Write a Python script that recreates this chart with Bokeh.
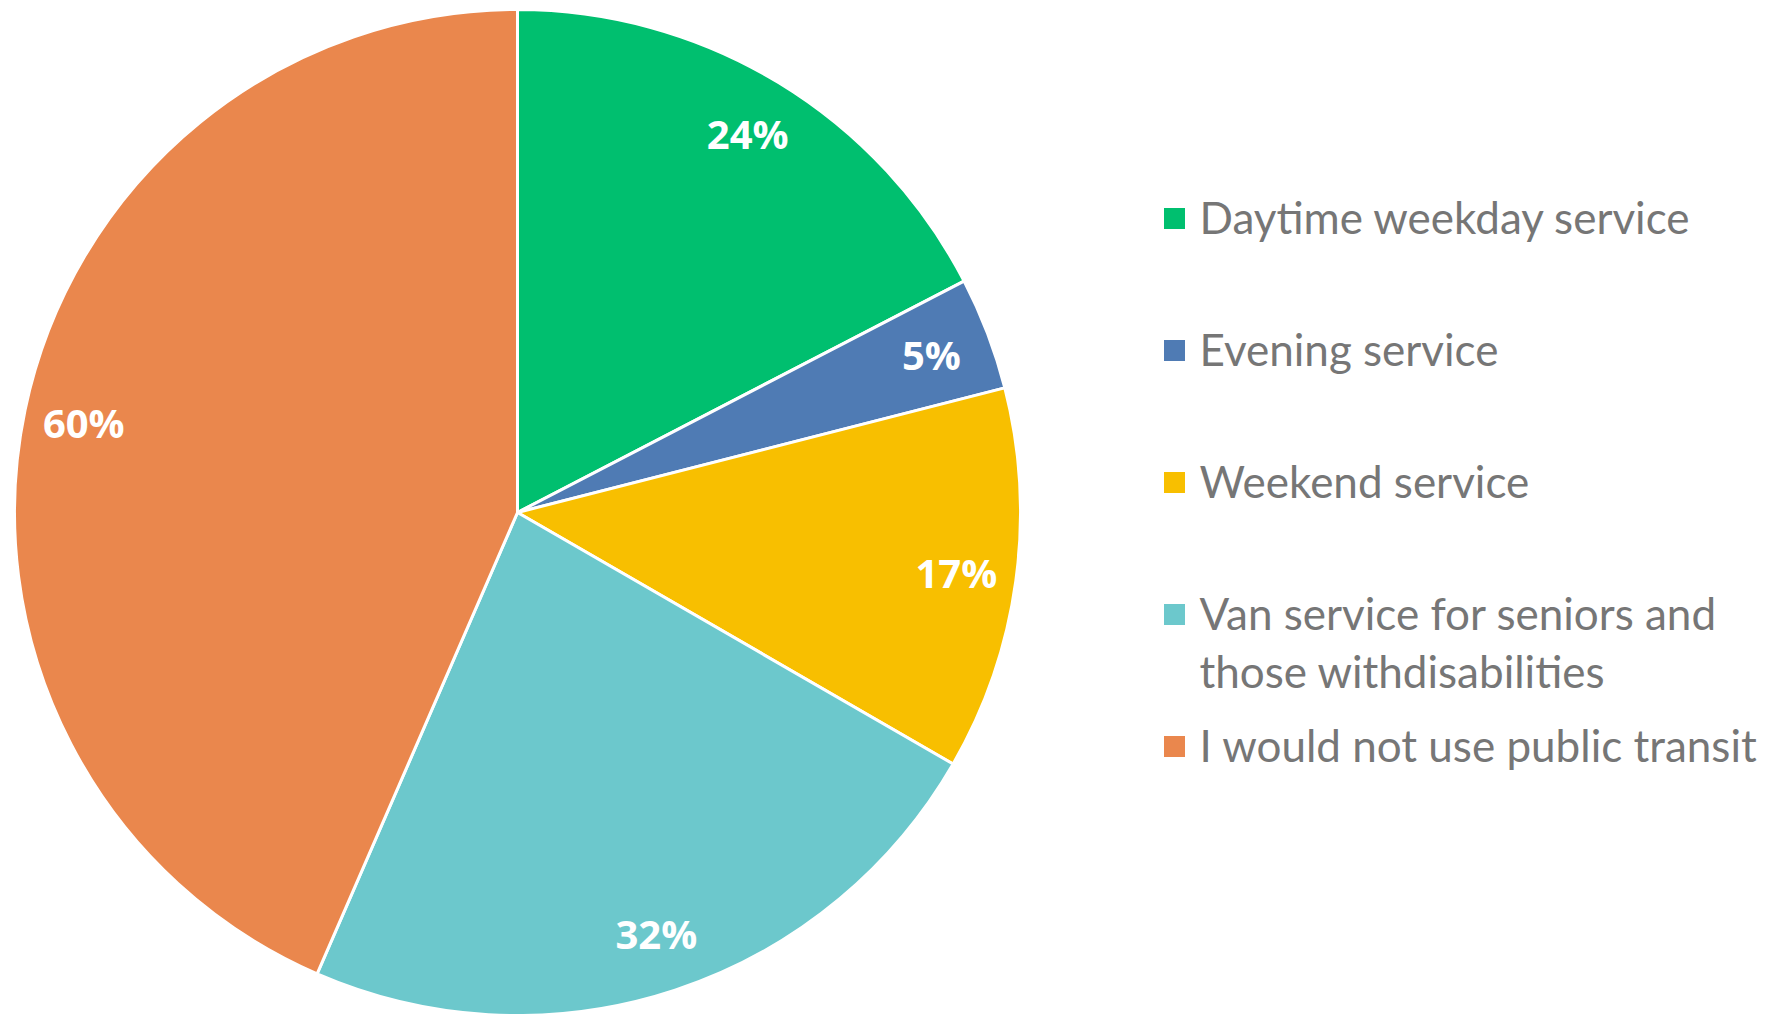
import math
from bokeh.plotting import figure
from bokeh.models import Range1d
from bokeh.core.properties import value
from bokeh.embed import file_html
from bokeh.resources import INLINE

categories = ["Daytime weekday service", "Evening service", "Weekend service",
              "Van service for seniors and\nthose withdisabilities", "I would not use public transit"]
values = [24, 5, 17, 32, 60]
labels = ["24%", "5%", "17%", "32%", "60%"]
colors = ["#00BF6F", "#4F7BB4", "#F8BF00", "#6CC8CC", "#EA874D"]

W, H = 1759, 1014
p = figure(width=W, height=H, output_backend="svg", toolbar_location=None,
           x_range=Range1d(0, W), y_range=Range1d(0, H), min_border=0)
p.axis.visible = False
p.grid.visible = False
p.outline_line_color = None
p.background_fill_color = "white"
p.border_fill_color = "white"

def Y(py):  # image pixel y -> data y
    return H - py

def X(px):
    return px

cx, cy, R = X(517), Y(512), 503
total = sum(values)
starts, ends, mids = [], [], []
cum = 0.0
for v in values:
    a0 = math.pi / 2 - 2 * math.pi * cum / total
    cum += v
    a1 = math.pi / 2 - 2 * math.pi * cum / total
    starts.append(a0)
    ends.append(a1)
    mids.append((a0 + a1) / 2)

p.wedge(x=[cx] * len(values), y=[cy] * len(values), radius=R,
        start_angle=starts, end_angle=ends, direction="clock",
        fill_color=colors, line_color="white", line_width=3)

lr = 443
p.text(x=[cx + lr * math.cos(m) for m in mids], y=[cy + lr * math.sin(m) for m in mids],
       text=labels, text_color="white", text_font=value("Open Sans"),
       text_font_style="bold", text_font_size="40px", text_align="center",
       text_baseline="middle")

# legend
sq_x, txt_x = X(1174), X(1199)
row0, step, line_gap = 218, 132, 58
tx, ty, tt = [], [], []
sx, sy = [], []
for i, c in enumerate(categories):
    cyp = row0 + step * i
    sx.append(sq_x)
    sy.append(Y(cyp))
    for j, line in enumerate(c.split("\n")):
        tx.append(txt_x)
        ty.append(Y(cyp - 2 + line_gap * j))
        tt.append(line)
p.rect(x=sx, y=sy, width=21, height=21, fill_color=colors, line_color=None)
p.text(x=tx, y=ty, text=tt, text_color="#767676", text_font=value("Lato"),
       text_font_size="44px", text_align="left", text_baseline="middle")

open("out.html", "w").write(file_html(p, INLINE))
